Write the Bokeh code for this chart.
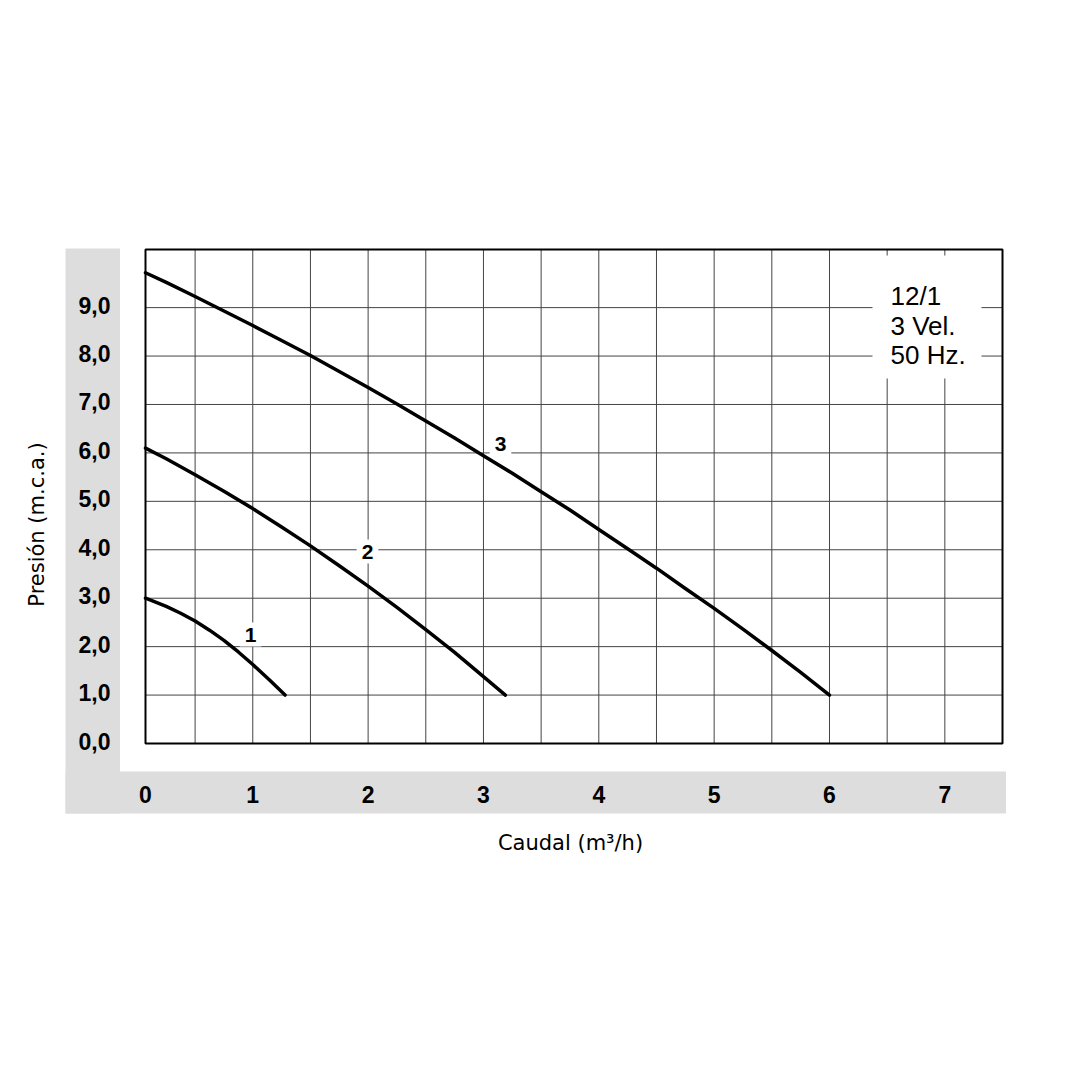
import math
from bokeh.plotting import figure
from bokeh.models import Label, Range1d
from bokeh.core.properties import value
from bokeh.embed import file_html
from bokeh.resources import INLINE

# ---------------- data ----------------
x_ticks = [0, 1, 2, 3, 4, 5, 6, 7]
x_tick_labels = ["0", "1", "2", "3", "4", "5", "6", "7"]
y_ticks = [0, 1, 2, 3, 4, 5, 6, 7, 8, 9]
y_tick_labels = ["0,0", "1,0", "2,0", "3,0", "4,0", "5,0", "6,0", "7,0", "8,0", "9,0"]
x_grid = [0.5, 1.0, 1.5, 2.0, 2.5, 3.0, 3.5, 4.0, 4.5, 5.0, 5.5, 6.0, 6.5, 7.0]
y_grid = [1, 2, 3, 4, 5, 6, 7, 8, 9]

# speed 1  (caudal m3/h, presion m.c.a.)
q1 = [0.0, 0.125, 0.25, 0.375, 0.5, 0.625, 0.75, 0.875, 1.0, 1.15, 1.28]
h1 = [3.0, 2.95, 2.83, 2.69, 2.53, 2.34, 2.13, 1.89, 1.63, 1.3, 1.0]
# speed 2
q2 = [0.0, 0.25, 0.5, 0.75, 1.0, 1.25, 1.5, 1.75, 2.0, 2.25, 2.5, 2.75, 3.0, 3.19]
h2 = [6.1, 5.88, 5.55, 5.21, 4.85, 4.47, 4.08, 3.67, 3.25, 2.81, 2.35, 1.88, 1.38, 1.0]
# speed 3
q3 = [0.0, 0.25, 0.5, 0.75, 1.0, 1.25, 1.5, 1.75, 2.0, 2.25, 2.5, 2.75, 3.0,
      3.25, 3.5, 3.75, 4.0, 4.25, 4.5, 4.75, 5.0, 5.25, 5.5, 5.75, 6.0]
h3 = [9.72, 9.52, 9.23, 8.93, 8.63, 8.32, 8.01, 7.68, 7.35, 7.01, 6.66, 6.31, 5.94,
      5.58, 5.2, 4.82, 4.42, 4.02, 3.62, 3.2, 2.79, 2.36, 1.92, 1.47, 1.0]

curve_names = ["1", "2", "3"]
info_lines = ["12/1", "3 Vel.", "50 Hz."]
x_title = "Caudal (m³/h)"
y_title = "Presión (m.c.a.)"

# ---------------- layout helpers (pixel <-> data) ----------------
W, H = 1060, 1000
X_START, X_END = 0.07, 7.5      # visible plot area along x (left border is the "0")
Y_START, Y_END = 0.0, 10.2      # visible plot area along y
PX_LEFT, PX_RIGHT = 145.0, 1002.0
PX_BOTTOM, PX_TOP = 743.0, 249.0
SX = (PX_RIGHT - PX_LEFT) / (X_END - X_START)
SY = (PX_BOTTOM - PX_TOP) / (Y_END - Y_START)


def dx(px):
    return X_START + (px - PX_LEFT) / SX


def dy(py):
    return Y_START + (PX_BOTTOM - py) / SY


def on_axis(xs):
    # the chart's left border stands for 0 m3/h
    return [max(v, X_START) for v in xs]


p = figure(width=W, height=H,
           x_range=Range1d(dx(0), dx(W)), y_range=Range1d(dy(H), dy(0)),
           output_backend="svg", toolbar_location=None,
           x_axis_location=None, y_axis_location=None,
           min_border=0, min_border_left=0, min_border_right=0,
           min_border_top=0, min_border_bottom=0,
           background_fill_color="white", border_fill_color="white")
p.grid.visible = False
p.outline_line_color = None

# gray L-shaped band behind the tick labels
GRAY = "#dddddd"
p.quad(left=[dx(65), dx(65)], right=[dx(119.5), dx(1005.5)],
       bottom=[dy(813), dy(813)], top=[dy(248), dy(771)],
       fill_color=GRAY, line_color=None)

# grid lines (every 0.5 m3/h, every 1 m)
GRID = "#444444"
p.segment(x0=x_grid, x1=x_grid, y0=[Y_START] * len(x_grid), y1=[Y_END] * len(x_grid),
          line_color=GRID, line_width=1)
p.segment(x0=[X_START] * len(y_grid), x1=[X_END] * len(y_grid), y0=y_grid, y1=y_grid,
          line_color=GRID, line_width=1)

# white box behind the info text
p.quad(left=[dx(872)], right=[dx(981)], bottom=[dy(378)], top=[dy(255)],
       fill_color="white", line_color=None)

# plot border
p.quad(left=[X_START], right=[X_END], bottom=[Y_START], top=[Y_END],
       fill_alpha=0, line_color="black", line_width=2)

# curves
for q, h in ((q1, h1), (q2, h2), (q3, h3)):
    p.line(on_axis(q), h, line_color="black", line_width=3.5,
           line_join="round", line_cap="round")

# tick labels
p.text(x=on_axis(x_ticks), y=[dy(794)] * len(x_ticks), text=x_tick_labels,
       text_font=value("Liberation Sans"), text_font_style="bold",
       text_font_size="23px", text_color="black",
       text_align="center", text_baseline="middle")
y_lab_shift = 2.5 / SY
p.text(x=[dx(110)] * len(y_ticks), y=[t + y_lab_shift for t in y_ticks], text=y_tick_labels,
       text_font=value("Liberation Sans"), text_font_style="bold",
       text_font_size="23px", text_color="black",
       text_align="right", text_baseline="middle")

# axis titles
p.text(x=[dx(570)], y=[dy(842)], text=[x_title],
       text_font=value("DejaVu Sans"), text_font_size="21px", text_color="black",
       text_align="center", text_baseline="middle")
p.text(x=[dx(36)], y=[dy(524)], text=[y_title], angle=math.pi / 2,
       text_font=value("DejaVu Sans"), text_font_size="21px", text_color="black",
       text_align="center", text_baseline="middle")

# curve labels
label_pos = [(dx(250), dy(634)), (dx(367), dy(551)), (dx(500), dy(443))]
for name, (lx, ly) in zip(curve_names, label_pos):
    p.add_layout(Label(x=lx, y=ly, text=name, text_align="center", text_baseline="middle",
                       text_font="Liberation Sans", text_font_style="bold",
                       text_font_size="21px", text_color="black",
                       background_fill_color="white", background_fill_alpha=1,
                       padding=5))

# info text top right
for txt, py in zip(info_lines, [295, 325, 354]):
    p.add_layout(Label(x=dx(890), y=dy(py), text=txt, text_align="left", text_baseline="middle",
                       text_font="Liberation Sans", text_font_size="26px",
                       text_color="black"))

open("out.html", "w").write(file_html(p, INLINE))
